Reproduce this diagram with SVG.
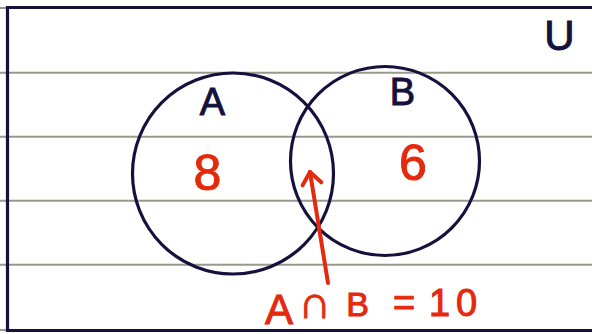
<svg xmlns="http://www.w3.org/2000/svg" width="592" height="334" viewBox="0 0 592 334">
  <style>
    .rule { stroke: #999a8a; stroke-width: 2; }
    .ink { fill: none; stroke: #15113d; stroke-width: 3.2; }
    .lbl { font-family: "Liberation Sans", "DejaVu Sans", sans-serif; fill: #15113d; stroke: #15113d; stroke-width: 1; text-anchor: middle; }
    .red { font-family: "Liberation Sans", "DejaVu Sans", sans-serif; fill: #e4290d; stroke: #e4290d; stroke-width: 1; text-anchor: middle; }
    .arrow { fill: none; stroke: #e4290d; stroke-width: 4; stroke-linecap: round; stroke-linejoin: round; }
  </style>
  <defs>
    <marker id="openHead" markerUnits="userSpaceOnUse" markerWidth="30" markerHeight="30" viewBox="-15 -15 30 30" refX="0" refY="0" orient="auto" overflow="visible">
      <path d="M -12 -9.5 L 0 0 L -12 9.5" fill="none" stroke="#e4290d" stroke-width="4" stroke-linecap="round" stroke-linejoin="round"/>
    </marker>
  </defs>
  <rect width="592" height="334" fill="#ffffff"/>
  <g id="paper-lines">
    <line class="rule" x1="0" y1="8" x2="592" y2="8"/>
    <line class="rule" x1="0" y1="72.7" x2="592" y2="72.7"/>
    <line class="rule" x1="0" y1="136.7" x2="592" y2="136.7"/>
    <line class="rule" x1="0" y1="200.7" x2="592" y2="200.7"/>
    <line class="rule" x1="0" y1="264.7" x2="592" y2="264.7"/>
    <line class="rule" x1="0" y1="330" x2="592" y2="330"/>
  </g>
  <g id="universe">
    <path class="ink" d="M 600 7.5 H 7.5 V 330.5 H 600"/>
    <text class="lbl" x="559.5" y="50" font-size="42">U</text>
  </g>
  <g id="setA">
    <circle class="ink" cx="233" cy="173.5" r="100.5"/>
    <text class="lbl" x="212.5" y="115" font-size="38">A</text>
    <text class="red" x="207.5" y="190" font-size="50">8</text>
  </g>
  <g id="setB">
    <circle class="ink" cx="385" cy="161" r="94.5"/>
    <text class="lbl" x="402.5" y="105" font-size="38">B</text>
    <text class="red" x="413" y="180" font-size="50">6</text>
  </g>
  <g id="intersection-label">
    <text class="red" y="317" font-size="38"><tspan x="279" font-size="42" y="324">A</tspan><tspan x="315" font-size="46" y="318">∩</tspan><tspan x="357.5" font-size="34" y="316">B</tspan><tspan x="374"> </tspan><tspan x="404">=</tspan><tspan x="425"> </tspan><tspan x="439.5">1</tspan><tspan x="466.5">0</tspan></text>
  </g>
  <g id="connectors">
    <line class="arrow" x1="328" y1="283" x2="310" y2="172" marker-end="url(#openHead)"/>
  </g>
</svg>
